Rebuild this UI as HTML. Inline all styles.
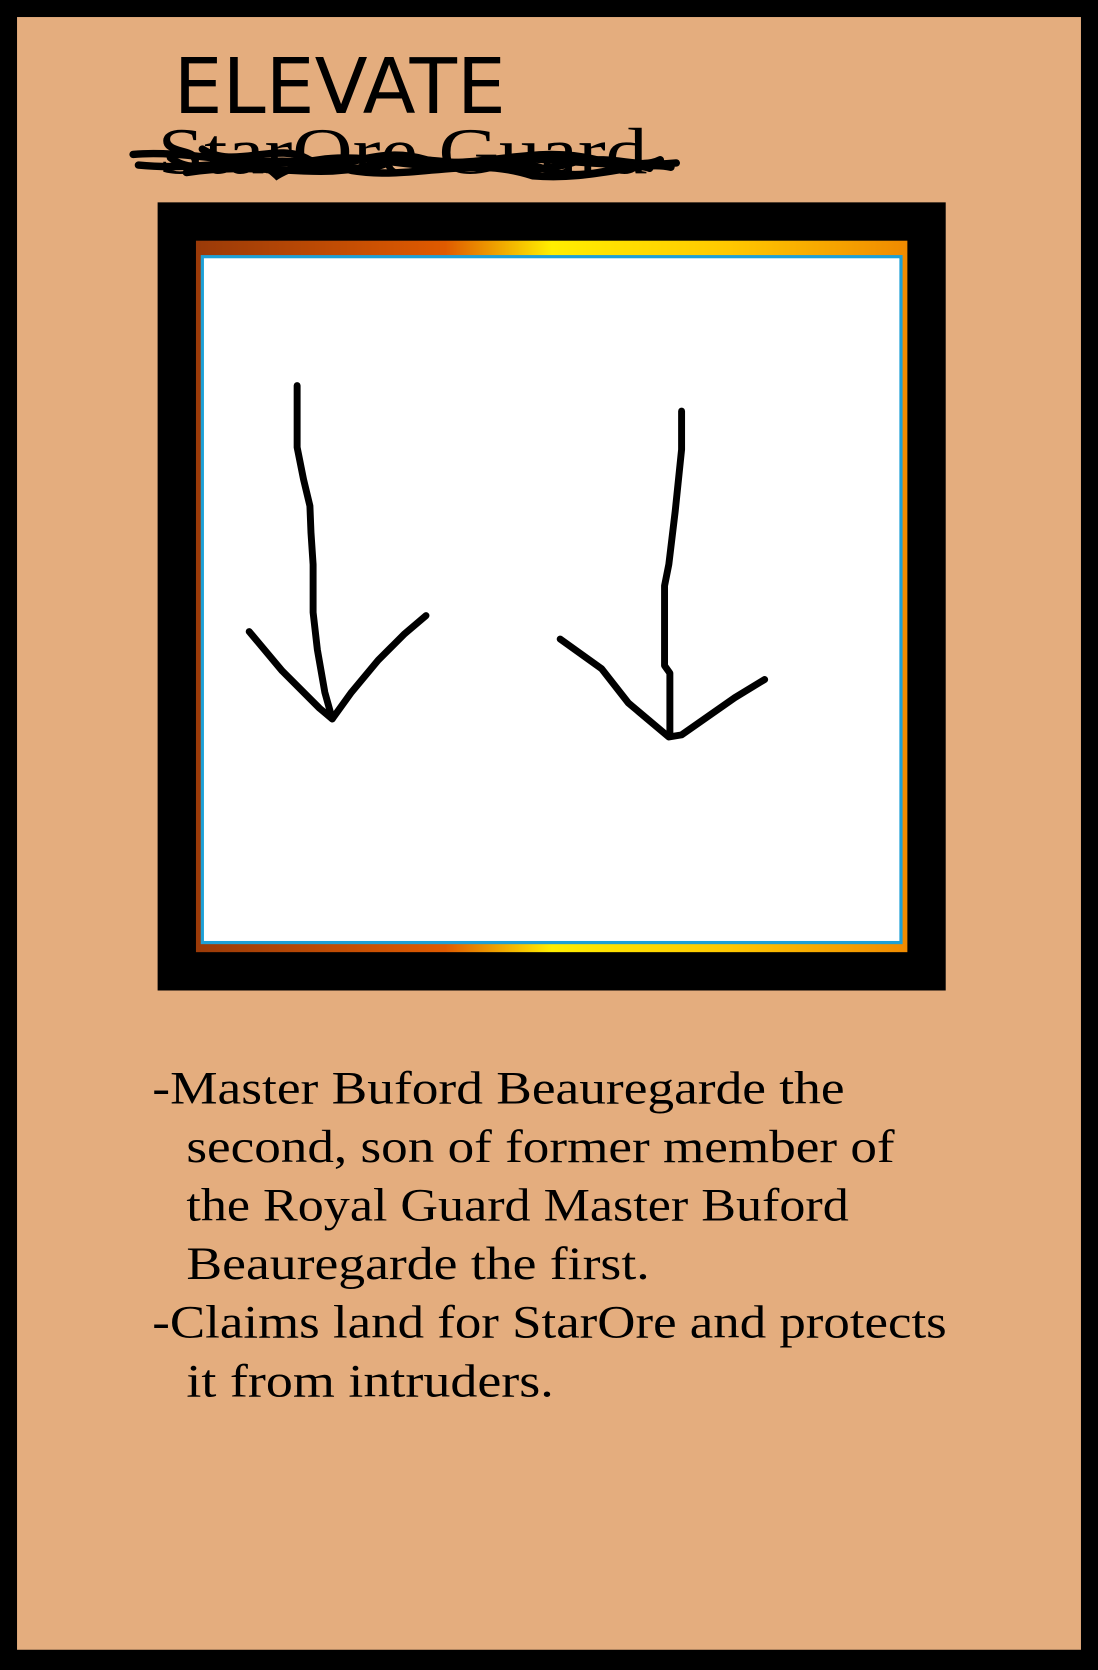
<!DOCTYPE html>
<html><head><meta charset="utf-8"><style>
html,body{margin:0;padding:0;background:#000;}
svg{display:block}
</style></head><body>
<svg width="1098" height="1670" viewBox="0 0 1031 1568" preserveAspectRatio="none" xmlns="http://www.w3.org/2000/svg">
<defs>
<linearGradient id="og" x1="0" y1="0" x2="1" y2="0">
<stop offset="0" stop-color="#9a3a08"/><stop offset="0.35" stop-color="#e05a00"/><stop offset="0.5" stop-color="#ffee00"/><stop offset="0.75" stop-color="#ffc800"/><stop offset="1" stop-color="#f08a00"/>
</linearGradient>
</defs>
<rect x="0" y="0" width="1031" height="1568" fill="#000"/>
<rect x="16" y="16" width="999" height="1533" fill="#e4ad7e"/>
<text x="163" y="106" font-family="'DejaVu Sans', 'Liberation Sans', sans-serif" font-size="72" textLength="312" lengthAdjust="spacingAndGlyphs" fill="#000">ELEVATE</text>
<g>
<text x="148" y="163" font-family="'Liberation Serif', serif" font-size="62" textLength="460" lengthAdjust="spacingAndGlyphs" fill="#000">StarOre Guard</text>
<g stroke="#000" stroke-width="7" fill="none" stroke-linecap="round">
<path d="M125 145 C180 140 240 160 300 150 C350 142 400 165 450 152 C500 142 560 160 635 153"/>
<path d="M130 155 C200 162 260 140 330 160 C390 170 440 145 500 165 C560 170 600 150 630 157"/>
<path d="M160 148 C190 172 230 135 260 165 C300 140 330 172 370 150 C420 162 470 140 520 162 C560 170 590 150 610 158"/>
<path d="M175 162 C250 150 300 172 360 152 C420 142 480 172 540 152 C580 145 600 160 620 150"/>
<path d="M190 140 C220 160 260 132 290 150 C320 165 350 135 400 150 C450 160 500 135 560 150"/>
</g>
</g>
<rect x="148" y="190" width="740" height="740" fill="#000"/>
<rect x="184" y="226" width="668" height="668" fill="url(#og)"/>
<rect x="190" y="241" width="656" height="644" fill="#fff" stroke="#1ea0d6" stroke-width="3"/>
<g stroke="#000" stroke-width="6.5" fill="none" stroke-linecap="round" stroke-linejoin="round">
<polyline points="279,362 279,420 285,450 291,475 292,500 294,530 294,575 298,610 305,650 312,675"/>
<polyline points="234,593 265,630 300,665 312,675 330,650 355,620 380,595 400,578"/>
</g>
<g stroke="#000" stroke-width="6.5" fill="none" stroke-linecap="round" stroke-linejoin="round">
<polyline points="640,386 640,422 634,480 628,530 624,550 624,625 629,632 629,690"/>
<polyline points="526,600 565,628 590,660 628,692 640,690 690,655 718,638"/>
</g>
<g font-family="'Liberation Serif', serif" font-size="44" fill="#000">
<text x="143" y="1036" textLength="650" lengthAdjust="spacingAndGlyphs">-Master Buford Beauregarde the</text>
<text x="175" y="1091" textLength="665" lengthAdjust="spacingAndGlyphs">second, son of former member of</text>
<text x="175" y="1146" textLength="622" lengthAdjust="spacingAndGlyphs">the Royal Guard Master Buford</text>
<text x="175" y="1201" textLength="435" lengthAdjust="spacingAndGlyphs">Beauregarde the first.</text>
<text x="143" y="1256" textLength="746" lengthAdjust="spacingAndGlyphs">-Claims land for StarOre and protects</text>
<text x="175" y="1311" textLength="345" lengthAdjust="spacingAndGlyphs">it from intruders.</text>
</g>
</svg>
</body></html>
